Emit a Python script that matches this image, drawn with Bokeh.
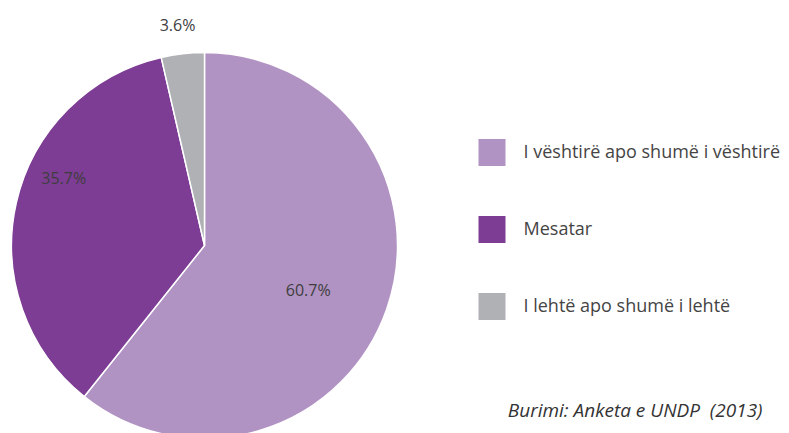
import math
from bokeh.plotting import figure
from bokeh.models import Range1d, ColumnDataSource
from bokeh.core.properties import value
from bokeh.embed import file_html
from bokeh.resources import INLINE

# ---- data ----
categories = ["I vështirë apo shumë i vështirë", "Mesatar", "I lehtë apo shumë i lehtë"]
shares = [60.7, 35.7, 3.6]
colors = ["#B193C3", "#7E3D94", "#B0B1B4"]
source_note = "Burimi: Anketa e UNDP\u00a0 (2013)"

W, H = 789, 433
p = figure(width=W, height=H, output_backend="svg", toolbar_location=None,
           x_range=Range1d(0, W), y_range=Range1d(0, H),
           x_axis_type=None, y_axis_type=None, min_border=0)
p.outline_line_color = None
p.xgrid.visible = False
p.ygrid.visible = False

cx, cy, r = 204, 188, 193
total = sum(shares)
starts, ends, mids = [], [], []
a = math.pi / 2
for s in shares:
    span = 2 * math.pi * s / total
    starts.append(a)
    ends.append(a - span)
    mids.append(a - span / 2)
    a -= span

src = ColumnDataSource(dict(start=starts, end=ends, color=colors))
p.wedge(x=cx, y=cy, radius=r, start_angle="start", end_angle="end",
        direction="clock", fill_color="color", line_color="white",
        line_width=1.5, source=src)

# label placement (style): radial factor and angular tweak per slice
rad_f = [0.585, 0.81, 1.15]
ang_tweak = [-4, -13, 0.5]
lx, ly, lt = [], [], []
for m, f, t, s in zip(mids, rad_f, ang_tweak, shares):
    ang = m + math.radians(t)
    lx.append(cx + r * f * math.cos(ang))
    ly.append(cy + r * f * math.sin(ang))
    lt.append(f"{s:.1f}%")
p.text(x=lx, y=ly, text=lt, text_font=value("Open Sans"),
       text_font_size="16px", text_color="#3d3d3d",
       text_align="center", text_baseline="middle")

# legend drawn from categories
leg_x, leg_y0, leg_step = 491.5, 281, 77
ly2 = [leg_y0 - i * leg_step for i in range(len(categories))]
p.rect(x=[leg_x] * len(categories), y=ly2, width=27, height=27,
       width_units="screen", height_units="screen",
       fill_color=colors, line_color=None)
p.text(x=[leg_x + 31.5] * len(categories), y=[v + 2 for v in ly2], text=categories,
       text_font=value("Open Sans"), text_font_size="18px",
       text_color="#444444", text_align="left", text_baseline="middle")

p.text(x=[762], y=[24], text=[source_note], text_font=value("Open Sans"),
       text_font_size="19px", text_font_style="italic", text_color="#333333",
       text_align="right", text_baseline="middle")

open("out.html", "w").write(file_html(p, INLINE))
